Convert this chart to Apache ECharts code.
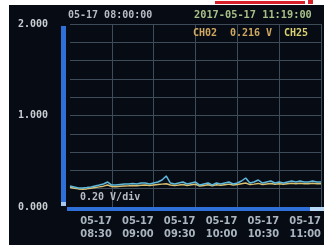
<!DOCTYPE html>
<html><head><meta charset="utf-8">
<script src="https://cdn.jsdelivr.net/npm/echarts@6/dist/echarts.min.js"></script>
<style>html,body{margin:0;padding:0;background:#fff;}#c{width:324px;height:245px;}</style>
</head><body><div id="c"></div>
<script>
// time categories: 3-minute steps from 08:00
const times = [];
for (let i = 0; i <= 60; i++) {
  const m = 8 * 60 + i * 3;
  times.push('05-17\n' + String(Math.floor(m / 60)).padStart(2, '0') + ':' + String(m % 60).padStart(2, '0'));
}
const yTickLabels = {0: '0.000', 1: '1.000', 2: '2.000'};
const ch02 = [0.230,0.219,0.208,0.208,0.213,0.219,0.230,0.240,0.251,0.273,0.240,0.240,0.246,0.251,0.251,0.257,0.251,0.262,0.262,0.251,0.262,0.273,0.295,0.339,0.262,0.251,0.262,0.273,0.251,0.262,0.273,0.240,0.251,0.262,0.240,0.262,0.251,0.262,0.273,0.251,0.262,0.284,0.317,0.262,0.273,0.295,0.262,0.273,0.284,0.262,0.273,0.262,0.273,0.284,0.273,0.284,0.273,0.273,0.284,0.273,0.273];
const ch25 = [0.215,0.205,0.198,0.195,0.198,0.205,0.212,0.220,0.228,0.240,0.225,0.222,0.226,0.230,0.232,0.235,0.232,0.238,0.240,0.234,0.240,0.245,0.250,0.255,0.240,0.236,0.240,0.245,0.236,0.242,0.248,0.230,0.236,0.242,0.232,0.242,0.238,0.244,0.250,0.240,0.246,0.255,0.262,0.245,0.250,0.258,0.246,0.252,0.258,0.248,0.254,0.248,0.254,0.260,0.254,0.260,0.255,0.255,0.260,0.255,0.255];

const chart = echarts.init(document.getElementById('c'));
const mono = '"DejaVu Sans Mono", monospace';
const narrow = '"Liberation Sans Narrow", "DejaVu Sans Condensed", "DejaVu Sans Mono", sans-serif';
chart.setOption({
  animation: false,
  backgroundColor: '#fff',
  grid: {left: 70, top: 24, width: 267, height: 183},
  graphic: [
    {type: 'rect', z: -10, shape: {x: 9, y: 5, width: 320, height: 245}, style: {fill: '#070c14'}},
    {type: 'rect', z: -9, shape: {x: 215, y: 1, width: 90, height: 3}, style: {fill: '#d8202a'}},
    {type: 'rect', z: -9, shape: {x: 308, y: 0, width: 5, height: 4}, style: {fill: '#d8202a'}},
    {type: 'rect', z: 10, shape: {x: 61, y: 26, width: 5, height: 177}, style: {fill: '#2f6fd8'}},
    {type: 'rect', z: 10, shape: {x: 61, y: 202, width: 5, height: 4}, style: {fill: '#a8c8f0'}},
    {type: 'rect', z: 10, shape: {x: 67, y: 207, width: 245, height: 4}, style: {fill: '#2f6fd8'}},
    {type: 'rect', z: 10, shape: {x: 310, y: 207, width: 14, height: 4}, style: {fill: '#b8d8f8'}},
    {type: 'text', z: 10, x: 68, y: 10, style: {text: '05-17 08:00:00', fill: '#b8bcc4', font: 'bold 10px ' + mono}},
    {type: 'text', z: 10, x: 194, y: 10, style: {text: '2017-05-17 11:19:00', fill: '#a8c088', font: 'bold 10.3px ' + mono}},
    {type: 'text', z: 10, x: 193, y: 28, style: {text: 'CH02', fill: '#d0a860', font: 'bold 10px ' + mono}},
    {type: 'text', z: 10, x: 230, y: 28, style: {text: '0.216 V', fill: '#d0a860', font: 'bold 10px ' + mono}},
    {type: 'text', z: 10, x: 284, y: 28, style: {text: 'CH25', fill: '#d8d070', font: 'bold 10px ' + mono}},
    {type: 'text', z: 10, x: 80, y: 192, style: {text: '0.20 V/div', fill: '#b8bcc4', font: 'bold 10px ' + mono}}
  ],
  xAxis: {
    type: 'category', data: times, boundaryGap: false,
    axisLine: {show: false}, axisTick: {show: false},
    axisLabel: {
      interval: (i) => i % 10 === 0 && i > 0,
      color: '#aab4bf', fontFamily: narrow, fontWeight: 'bold', fontSize: 11,
      align: 'right', lineHeight: 13, margin: 8
    },
    splitLine: {show: true, interval: (i) => i % 10 === 0 && i > 0, lineStyle: {color: '#3e4c5a', width: 1}}
  },
  yAxis: {
    type: 'value', min: 0, max: 2, interval: 0.2,
    axisLine: {show: false}, axisTick: {show: false},
    axisLabel: {
      color: '#c8ccd2', fontFamily: mono, fontWeight: 'bold', fontSize: 10, margin: 22,
      formatter: (v) => { const k = Math.round(v * 10) / 10; return Number.isInteger(k) ? yTickLabels[k] : ''; }
    },
    splitLine: {lineStyle: {color: '#3e4c5a', width: 1}}
  },
  series: [
    {name: 'CH25', type: 'line', data: ch25, showSymbol: false, lineStyle: {color: '#d8c070', width: 1.5}},
    {name: 'CH02', type: 'line', data: ch02, showSymbol: false, lineStyle: {color: '#5fb8dc', width: 1.5}}
  ]
});
</script></body></html>
